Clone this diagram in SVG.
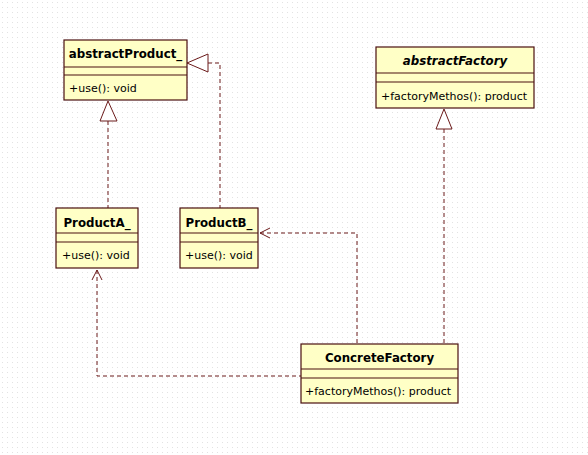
<svg xmlns="http://www.w3.org/2000/svg" width="588" height="455" viewBox="0 0 588 455">
<defs>
<pattern id="grid" width="5" height="5" patternUnits="userSpaceOnUse"><rect x="2" y="2" width="1" height="1" fill="#e2e2e2"/></pattern>
<style>
.box{fill:#ffffc6;stroke:#4a1010;stroke-width:1.2}
.sep{stroke:#4a1010;stroke-width:1.2}
.t{font-family:"DejaVu Sans",Tahoma,sans-serif;font-size:11px;fill:#000}
.b{font-weight:bold;text-anchor:middle;font-size:11.8px}
.i{font-style:italic}
.dash{fill:none;stroke:#6b1a1a;stroke-width:1;stroke-dasharray:4,3}
.tri{fill:#fff;stroke:#6b1a1a;stroke-width:1}
.arr{fill:none;stroke:#6b1a1a;stroke-width:1}
</style>
</defs>
<rect width="588" height="455" fill="#fff"/>
<rect width="588" height="455" fill="url(#grid)"/>
<g id="connectors">
<path class="dash" d="M108,121 V208"/>
<polygon class="tri" points="108,101 100,121 117,121"/>
<path class="dash" d="M208,63 H220 V208"/>
<polygon class="tri" points="187,63 208,54 208,72"/>
<path class="dash" d="M444,129 V344"/>
<polygon class="tri" points="444,109 436,129 452,129"/>
<path class="dash" d="M97,270 V376 H301"/>
<path class="arr" d="M92,280 L97,270 L102,280"/>
<path class="dash" d="M260,233 H357 V344"/>
<path class="arr" d="M270,228 L260,233 L270,238"/>
</g>
<g id="abstractProduct">
<rect class="box" x="64" y="40" width="123" height="60"/>
<line class="sep" x1="64" y1="67" x2="187" y2="67"/>
<line class="sep" x1="64" y1="75" x2="187" y2="75"/>
<text class="t b" x="125.5" y="57.5">abstractProduct_</text>
<text class="t" x="69" y="91.5">+use(): void</text>
</g>
<g id="abstractFactory">
<rect class="box" x="376" y="47" width="158" height="61"/>
<line class="sep" x1="376" y1="73" x2="534" y2="73"/>
<line class="sep" x1="376" y1="82" x2="534" y2="82"/>
<text class="t b i" x="455" y="64.5">abstractFactory</text>
<text class="t" x="381" y="100">+factoryMethos(): product</text>
</g>
<g id="ProductA">
<rect class="box" x="56" y="208" width="82" height="60"/>
<line class="sep" x1="56" y1="233" x2="138" y2="233"/>
<line class="sep" x1="56" y1="242" x2="138" y2="242"/>
<text class="t b" x="97" y="226.5">ProductA_</text>
<text class="t" x="62" y="259">+use(): void</text>
</g>
<g id="ProductB">
<rect class="box" x="180" y="208" width="78" height="60"/>
<line class="sep" x1="180" y1="233" x2="258" y2="233"/>
<line class="sep" x1="180" y1="242" x2="258" y2="242"/>
<text class="t b" x="219" y="226.5">ProductB_</text>
<text class="t" x="185" y="259">+use(): void</text>
</g>
<g id="ConcreteFactory">
<rect class="box" x="301" y="344" width="157" height="59"/>
<line class="sep" x1="301" y1="369" x2="458" y2="369"/>
<line class="sep" x1="301" y1="378" x2="458" y2="378"/>
<text class="t b" x="379.5" y="362">ConcreteFactory</text>
<text class="t" x="305" y="395">+factoryMethos(): product</text>
</g>
</svg>
